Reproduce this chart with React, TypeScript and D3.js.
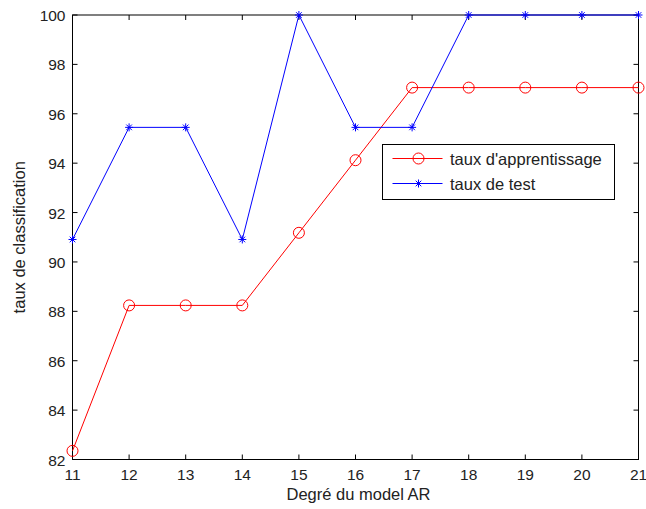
import React from "react";
import * as d3 from "d3";

const degrees = [11, 12, 13, 14, 15, 16, 17, 18, 19, 20, 21];
const tauxApprentissage = [82.35, 88.24, 88.24, 88.24, 91.18, 94.12, 97.06, 97.06, 97.06, 97.06, 97.06];
const tauxTest = [90.91, 95.45, 95.45, 90.91, 100, 95.45, 95.45, 100, 100, 100, 100];
const yTicks = [82, 84, 86, 88, 90, 92, 94, 96, 98, 100];
const seriesNames = ["taux d'apprentissage", "taux de test"];

const W = 646;
const H = 509;
const left = 72.5;
const right = 638.5;
const top = 15;
const bottom = 459.5;
const font = "Arial, 'Liberation Sans', sans-serif";
const tickFont = 15.5;
const labelFont = 16.5;

export default function App() {
  const x = d3.scaleLinear().domain([11, 21]).range([left, right]);
  const y = d3.scaleLinear().domain([82, 100]).range([bottom, top]);
  const line = d3
    .line<number>()
    .x((_, i) => x(degrees[i]))
    .y((d) => y(d));
  const tk = 5;

  const star = (cx: number, cy: number, key: string, s = 4) => (
    <g key={key} stroke="#0000ff" strokeWidth={1}>
      <line x1={cx - s} y1={cy} x2={cx + s} y2={cy} />
      <line x1={cx} y1={cy - s} x2={cx} y2={cy + s} />
      <line x1={cx - s * 0.7} y1={cy - s * 0.7} x2={cx + s * 0.7} y2={cy + s * 0.7} />
      <line x1={cx - s * 0.7} y1={cy + s * 0.7} x2={cx + s * 0.7} y2={cy - s * 0.7} />
    </g>
  );

  const legX = 382.5;
  const legY = 144.5;
  const legW = 232;
  const legH = 55;

  return (
    <svg width={W} height={H} style={{ position: "absolute", left: 0, top: 0, background: "#fff" }}>
      <rect x={0} y={0} width={W} height={H} fill="#fff" />
      {/* ticks on all four sides, pointing inward */}
      {degrees.map((d) => (
        <g key={"xt" + d} stroke="#000" strokeWidth={1}>
          <line x1={x(d)} y1={bottom} x2={x(d)} y2={bottom - tk} />
          <line x1={x(d)} y1={top} x2={x(d)} y2={top + tk} />
        </g>
      ))}
      {yTicks.map((v) => (
        <g key={"yt" + v} stroke="#000" strokeWidth={1}>
          <line x1={left} y1={y(v)} x2={left + tk} y2={y(v)} />
          <line x1={right} y1={y(v)} x2={right - tk} y2={y(v)} />
        </g>
      ))}
      <rect x={left} y={top} width={right - left} height={bottom - top} fill="none" stroke="#000" strokeWidth={1} />
      {degrees.map((d) => (
        <text key={"xl" + d} x={x(d)} y={bottom + 20.5} textAnchor="middle" fontFamily={font} fontSize={tickFont} fill="#222">
          {d}
        </text>
      ))}
      {yTicks.map((v) => (
        <text key={"yl" + v} x={left - 7} y={y(v) + 6} textAnchor="end" fontFamily={font} fontSize={tickFont} fill="#222">
          {v}
        </text>
      ))}
      <text x={(left + right) / 2 + 3} y={500} textAnchor="middle" fontFamily={font} fontSize={labelFont} fill="#222">
        Degré du model AR
      </text>
      <text
        transform={`translate(25, ${(top + bottom) / 2}) rotate(-90)`}
        textAnchor="middle"
        fontFamily={font}
        fontSize={labelFont}
        fill="#222"
      >
        taux de classification
      </text>

      {/* series */}
      <path d={line(tauxApprentissage) ?? ""} fill="none" stroke="#ff0000" strokeWidth={1} />
      {tauxApprentissage.map((v, i) => (
        <circle key={"c" + i} cx={x(degrees[i])} cy={y(v)} r={5.5} fill="none" stroke="#ff0000" strokeWidth={1} />
      ))}
      <path d={line(tauxTest) ?? ""} fill="none" stroke="#0000ff" strokeWidth={1} />
      {tauxTest.map((v, i) => star(x(degrees[i]), y(v), "s" + i))}

      {/* legend */}
      <rect x={legX} y={legY} width={legW} height={legH} fill="#fff" stroke="#000" strokeWidth={1} />
      <line x1={legX + 10} y1={legY + 14} x2={legX + 60} y2={legY + 14} stroke="#ff0000" strokeWidth={1} />
      <circle cx={legX + 36} cy={legY + 14} r={5.5} fill="none" stroke="#ff0000" strokeWidth={1} />
      <text x={legX + 67.5} y={legY + 20} fontFamily={font} fontSize={labelFont} fill="#222">
        {seriesNames[0]}
      </text>
      <line x1={legX + 10} y1={legY + 39} x2={legX + 60} y2={legY + 39} stroke="#0000ff" strokeWidth={1} />
      {star(legX + 36, legY + 39, "legstar")}
      <text x={legX + 67.5} y={legY + 45} fontFamily={font} fontSize={labelFont} fill="#222">
        {seriesNames[1]}
      </text>
    </svg>
  );
}
